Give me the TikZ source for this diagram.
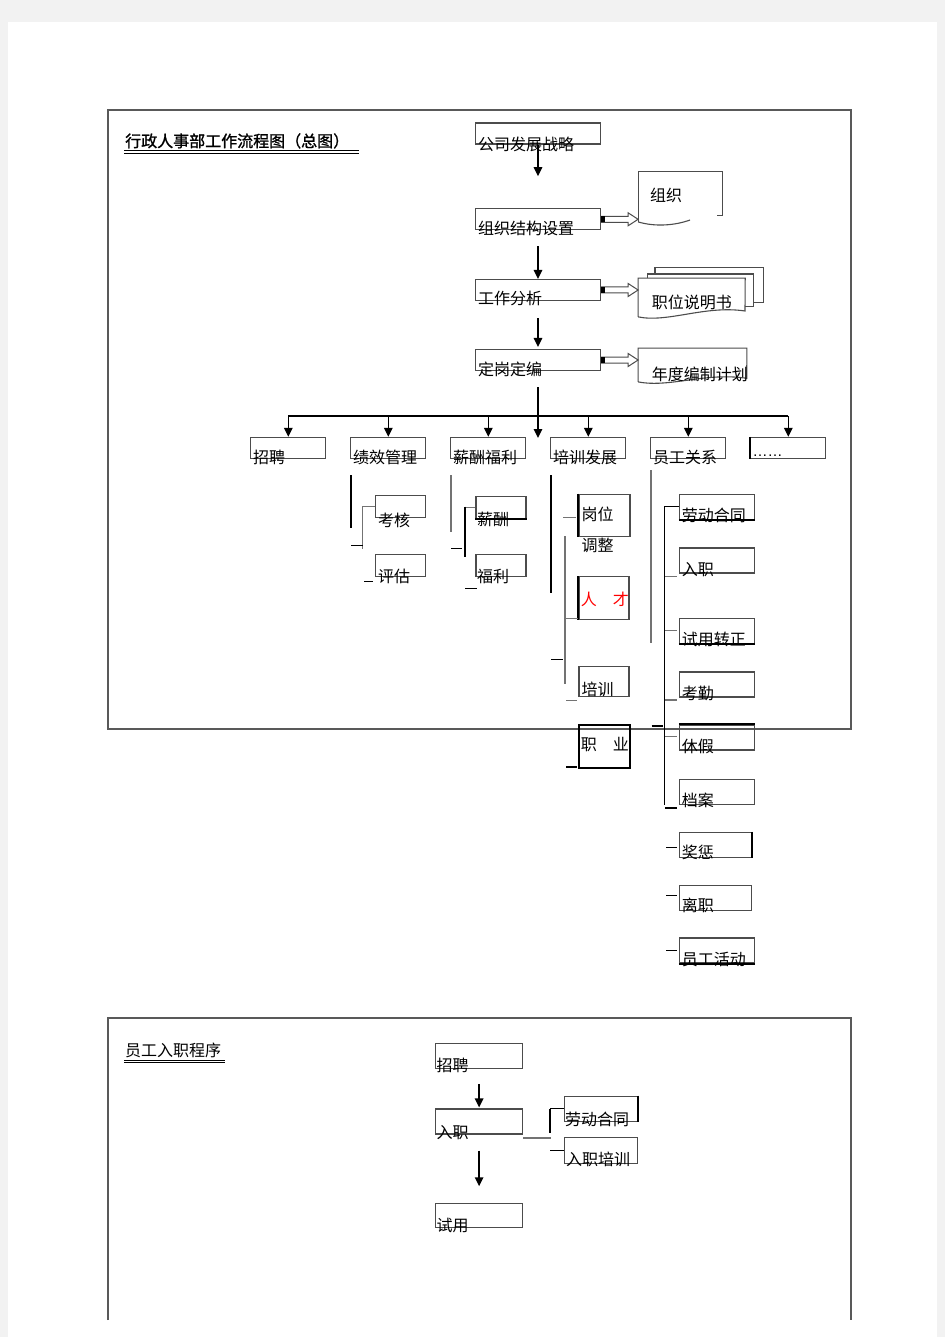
\documentclass[tikz,border=0pt]{standalone}
\usepackage{fontspec}
\newfontfamily\cjk{Noto Sans CJK SC}
\newfontfamily\cjkb[FakeBold=1.2]{Noto Sans CJK SC}
\newfontfamily\lsans{Liberation Sans}
\usetikzlibrary{arrows.meta,calc}

\begin{document}
\begin{tikzpicture}[x=1pt, y=-1pt,
  ln/.style={draw=black!70, line width=1.1pt},
  box/.style={ln, inner sep=0pt, minimum height=21pt},
  lbl/.style={font=\cjk\fontsize{16}{19}\selectfont, inner sep=0pt, anchor=base west},
  arr/.style={line width=1.5pt, -{Triangle[length=9pt, width=8.5pt]}},
  panel/.style={draw=black!65, line width=1.4pt},
  tk/.style={line width=2pt},
  gl/.style={draw=black!55, line width=1.3pt},
  bl/.style={line width=.9pt}]
\useasboundingbox (0,0) rectangle (945,1337);
\fill[black!5] (0,0) rectangle (945,1337);
\fill[white] (8,22) rectangle (937,1337);

% frames
\draw[panel] (108,110) rectangle (851,729);
\draw[panel] (108,1320) |- (851,1018) -- (851,1320);

\node[lbl, font=\cjkb\fontsize{16}{19}\selectfont] (title) at (125,147) {行政人事部工作流程图（总图）};
\draw[line width=.8pt] (124,150.3) -- (359,150.3) (124,153.2) -- (359,153.2);

% main column
\foreach \n/\y/\b/\t in {gs/133.5/150.5/公司发展战略, zz/219.3/235/组织结构设置, gz/290/305/工作分析, dg/360/375/定岗定编}{
  \node[box, minimum width=125pt] (\n) at (538,\y) {};
  \node[lbl] (\n-t) at (478,\b) {\t};
}
\draw[arr, shorten >=32pt] (gs.south) -- (zz.north);
\draw[arr, shorten <=16pt] (zz.south) -- (gz.north);
\draw[arr, shorten <=17pt, shorten >=2pt] (gz.south) -- (dg.north);

% documents
\node[inner sep=0pt, minimum width=84.4pt, minimum height=50pt] (zzd) at (680.5,196.7) {};
\draw[ln] (zzd.south west) -- (zzd.north west) -- (zzd.north east) -- ++(0,44.3) -- ++(-6,0);
\draw[ln] (zzd.south west) .. controls (655,227) and (675,225.5) .. (690,220);
\node[lbl] (zzd-t) at (650,201.5) {组织};

\node[inner sep=0pt, minimum width=106.7pt, minimum height=38.4pt] (zwd) at (691.65,297.5) {};
\draw[ln] (655,274) |- (763.3,267.3) |- (753.3,302.7);
\draw[ln] (647.3,278.3) |- (753.3,274) |- (745,306.7);
\draw[ln] (zwd.south west) -- (zwd.north west) -- (zwd.north east) -- (745,311) .. controls (705,305) and (668,323) .. (zwd.south west);
\node[lbl] (zwd-t) at (651.7,308.5) {职位说明书};

\node[inner sep=0pt, minimum width=108.4pt, minimum height=33.4pt] (ndd) at (692.5,365) {};
\draw[ln] (ndd.south west) -- (ndd.north west) -- (ndd.north east) -- (746.7,378.3) .. controls (705,372) and (670,388) .. (ndd.south west);
\node[lbl] (ndd-t) at (651.7,380) {年度编制计划};

\foreach \a/\b in {zz/zzd, gz/zwd, dg/ndd}{
  \draw[ln, line width=1pt] let \p1=(\a.east), \p2=(\b.west) in
    (\x1,\y1+3pt) -- (\x2-10pt,\y1+3pt) -- (\x2-10pt,\y1+6.5pt) -- (\x2,\y1)
    -- (\x2-10pt,\y1-6.5pt) -- (\x2-10pt,\y1-3pt) -- (\x1,\y1-3pt) -- cycle;
  \fill let \p1=(\a.east) in (\x1,\y1-3pt) rectangle (\x1+4pt,\y1+3pt);
}

% second level
\foreach \n/\x/\t in {zp/288.3/招聘, jx/388.3/绩效管理, xc/488.3/薪酬福利, px/588.3/培训发展, yg/688.3/员工关系}{
  \node[box, minimum width=75pt] (\n) at (\x,447.8) {};
  \node[lbl] (\n-t) at (\x-35.5,463.5) {\t};
}
\node[box, minimum width=75pt] (more) at (788.3,447.8) {};
\draw[tk] (more.north west) -- (more.south west);
\node[lbl, font=\lsans\fontsize{15}{18}\selectfont] (more-t) at (752.5,456) {……};

\coordinate (bus) at (538,416);
\coordinate (hub) at (538,438);
\draw[arr, shorten <=16pt] (dg.south) -- (hub);
\draw[line width=1.3pt] (zp.north |- bus) -- (more.north |- bus);
\foreach \n in {zp,jx,xc,px,yg,more}
  \draw[arr] (\n.north |- bus) -- (\n.north);

% 绩效管理, 薪酬福利
\foreach \n/\x/\y/\tx/\ty/\t in {kh/400.5/506.7/378/526/考核, pg/400.5/565.9/378/582/评估, xc1/501/507.2/477/525/薪酬, fl/501/565.9/477/582/福利}{
  \node[box, minimum width=50pt, minimum height=22pt] (\n) at (\x,\y) {};
  \node[lbl] (\n-t) at (\tx,\ty) {\t};
}
\draw[tk] (xc1.south west) -- (xc1.south east);
\draw[tk] (351,475) -- (351,528);
\draw[gl] (kh.west) -| (362.7,549.3);
\draw[bl] (351,545) -- (362.7,545);
\draw[bl] (364,581.7) -- (373.3,581.7);
\draw[gl] (451,475) -- (451,531.7);
\draw[gl] (xc1.west) -- (465,507.2);
\draw[tk] (465,506.7) -- (465,556.7);
\draw[bl] (451,548.3) -- (461.7,548.3);
\draw[bl] (465,588.3) -- (476.7,588.3);

% 培训发展
\node[box, minimum width=51pt, minimum height=42.7pt] (gw) at (604.5,515.4) {};
\node[box, minimum width=50pt, minimum height=42.6pt] (rc) at (604,598) {};
\node[box, minimum width=50pt, minimum height=30pt] (pt) at (604,681.7) {};
\node[box, draw=black, line width=2pt, minimum width=51pt, minimum height=43.3pt] (zy) at (604.5,746.7) {};
\draw[tk] (gw.north west) -- (gw.south west);
\draw[tk] (rc.north west) -- (rc.south west);
\node[lbl] (gw-t) at (581.5,520) {岗位};
\node[lbl] (gw-t2) at (581.5,551.5) {调整};
\node[lbl, text=red] (rc-t) at (580.7,605) {人　才};
\node[lbl] (pt-t) at (581.5,695) {培训};
\node[lbl] (zy-t) at (580.7,750) {职　业};
\draw[tk] (551,475) -- (551,593.3);
\draw[gl] (563,517.3) -- (576,517.3);
\draw[gl] (565,536) -- (565,684);
\draw[gl] (565,618.3) -- (578.3,618.3);
\draw[bl] (551,659.3) -- (563.3,659.3);
\draw[gl] (566,700.7) -- (577.3,700.7);
\draw[tk] (566,766.7) -- (577.3,766.7);

% 员工关系
\foreach \n/\y/\t in {ld/506.8/劳动合同, rz/560.5/入职, sy/630.8/试用转正, kq/684.5/考勤, xj/737.5/休假, da/791.7/档案, hd/950.5/员工活动}{
  \node[box, minimum width=75pt, minimum height=25pt] (\n) at (716.8,\y) {};
  \node[lbl] (\n-t) at (681.7,\y+14.5) {\t};
}
\foreach \n/\y/\t in {jc/844.8/奖惩, lz/897.9/离职}{
  \node[box, minimum width=72.4pt, minimum height=25pt] (\n) at (715.5,\y) {};
  \node[lbl] (\n-t) at (681.7,\y+13.5) {\t};
}
\draw[tk] (ld.south west) -- (ld.south east);
\draw[tk] (sy.south west) -- (sy.south east);
\draw[tk] (xj.north west) -- (xj.north east);
\draw[tk] (jc.north east) -- (jc.south east);
\draw[tk] (hd.south west) -- (hd.south east);
\draw[gl] (651,470) -- (651,642.7);
\draw[bl] (ld.west) -- (664,506.8) -- (664,805);
\foreach \y in {576.7,630.7,700,736.7}
  \draw[gl] (665,\y) -- (676.7,\y);
\draw[tk] (651.7,725.5) -- (663.3,725.5);
\draw[tk] (665,807.7) -- (677.3,807.7);
\foreach \y in {847.3,895,950.7}
  \draw[bl] (666,\y) -- (677,\y);

% 员工入职程序
\node[lbl] (title2) at (125,1056.5) {员工入职程序};
\draw[line width=.8pt] (124,1060) -- (225,1060) (124,1062.8) -- (225,1062.8);
\foreach \n/\y/\h/\b/\t in {zp2/1055.8/25/1071.5/招聘, rz2/1121.5/25/1138/入职, sy2/1215.3/24/1231.5/试用}{
  \node[box, minimum width=86.8pt, minimum height=\h pt] (\n) at (479.1,\y) {};
  \node[lbl] (\n-t) at (436.5,\b) {\t};
}
\draw[arr, shorten <=15pt, shorten >=1pt] (zp2.south) -- (rz2.north);
\draw[arr, shorten <=16pt, shorten >=16.5pt] (rz2.south) -- (sy2.north);
\node[box, minimum width=73.2pt, minimum height=25.7pt] (ld2) at (600.9,1108.9) {};
\node[box, minimum width=73.2pt, minimum height=26pt] (rp2) at (600.9,1150.3) {};
\draw[tk] (ld2.north east) -- (ld2.south east);
\node[lbl] (ld2-t) at (565,1125) {劳动合同};
\node[lbl] (rp2-t) at (566,1165) {入职培训};
\draw[gl] (rz2.south east) ++(0,3.3) -- ++(28.2,0);
\draw[tk] (ld2.west) ++(-13.6,0) -- ++(0,24.3);
\draw[bl] (ld2.west) -- ++(-13.6,0);
\draw[bl] (rp2.west) -- ++(-13.6,0);
\end{tikzpicture}
\end{document}
